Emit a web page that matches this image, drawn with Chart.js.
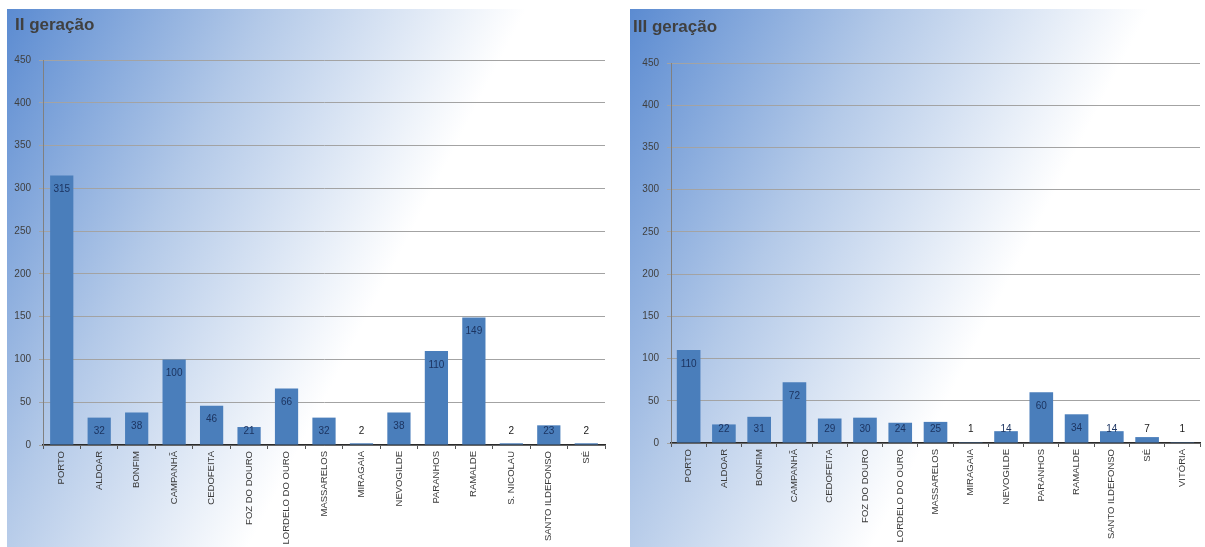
<!DOCTYPE html>
<html>
<head>
<meta charset="utf-8">
<script src="https://cdn.jsdelivr.net/npm/chart.js@4"></script>
<style>
  body { margin: 0; background: #fff; width: 1205px; height: 547px; overflow: hidden; position: relative; }
  .painel { position: absolute; top: 9px; height: 538px; }
  #p2 { left: 7px; width: 603px; }
  #p3 { left: 630px; width: 575px; }
</style>
</head>
<body>
<div class="painel" id="p2"><canvas id="g2"></canvas></div>
<div class="painel" id="p3"><canvas id="g3"></canvas></div>
<script>
// dados
const freguesias2 = ["PORTO", "ALDOAR", "BONFIM", "CAMPANHÃ", "CEDOFEITA", "FOZ DO DOURO",
  "LORDELO DO OURO", "MASSARELOS", "MIRAGAIA", "NEVOGILDE", "PARANHOS", "RAMALDE",
  "S. NICOLAU", "SANTO ILDEFONSO", "SÉ"];
const valores2 = [315, 32, 38, 100, 46, 21, 66, 32, 2, 38, 110, 149, 2, 23, 2];

const freguesias3 = ["PORTO", "ALDOAR", "BONFIM", "CAMPANHÃ", "CEDOFEITA", "FOZ DO DOURO",
  "LORDELO DO OURO", "MASSARELOS", "MIRAGAIA", "NEVOGILDE", "PARANHOS", "RAMALDE",
  "SANTO ILDEFONSO", "SÉ", "VITÓRIA"];
const valores3 = [110, 22, 31, 72, 29, 30, 24, 25, 1, 14, 60, 34, 14, 7, 1];

const ticksY = [0, 50, 100, 150, 200, 250, 300, 350, 400, 450];

const FONTE = '"Liberation Sans", Arial, sans-serif';

// fundo em degradê + título
const fundo = {
  id: "fundo",
  beforeDraw(chart, args, opts) {
    const ctx = chart.ctx;
    const w = chart.width, h = chart.height;
    const g = ctx.createLinearGradient(0, 0, 410, 212);
    g.addColorStop(0, "#5b8bd1");
    g.addColorStop(0.5, "#b3c9e8");
    g.addColorStop(1, "#ffffff");
    ctx.save();
    ctx.fillStyle = g;
    ctx.fillRect(0, 0, w, h);
    ctx.font = "bold 17px " + FONTE;
    ctx.fillStyle = "#404040";
    ctx.textBaseline = "alphabetic";
    ctx.fillText(opts.texto, opts.x, opts.y);
    ctx.restore();
  }
};

// rótulos de valor das barras
const rotulos = {
  id: "rotulos",
  afterDatasetsDraw(chart) {
    const ctx = chart.ctx;
    const meta = chart.getDatasetMeta(0);
    const dados = chart.data.datasets[0].data;
    ctx.save();
    ctx.font = "10px " + FONTE;
    ctx.textAlign = "center";
    ctx.textBaseline = "middle";
    meta.data.forEach(function (barra, i) {
      const y = Math.min(barra.y + 14, barra.base - 13);
      ctx.fillStyle = (barra.base - barra.y) > 10 ? "#1c3461" : "#1a1a1a";
      ctx.fillText(dados[i], barra.x, y);
    });
    ctx.restore();
  }
};

function criarGrafico(id, titulo, tx, ty, labels, valores, geo) {
  return new Chart(document.getElementById(id), {
    type: "bar",
    data: {
      labels: labels,
      datasets: [{
        data: valores,
        backgroundColor: "#4a7ebb",
        borderWidth: 0,
        categoryPercentage: 1,
        barPercentage: geo.barra
      }]
    },
    options: {
      responsive: true,
      maintainAspectRatio: false,
      animation: false,
      layout: { padding: { top: geo.topo, right: geo.direita, left: 0, bottom: 0 } },
      plugins: {
        legend: { display: false },
        tooltip: { enabled: false },
        fundo: { texto: titulo, x: tx, y: ty }
      },
      scales: {
        x: {
          offset: true,
          grid: { display: true, drawOnChartArea: false, drawTicks: true, tickLength: 4, offset: true, color: "#555" },
          border: { color: "#2b2b2b", width: 1.5 },
          ticks: {
            autoSkip: false, minRotation: 90, maxRotation: 90, padding: 2,
            color: "#3a3a3a", font: { family: FONTE, size: 9.5 }
          },
          afterFit(scale) { scale.height = geo.eixoX; }
        },
        y: {
          min: ticksY[0],
          max: ticksY[ticksY.length - 1],
          ticks: { stepSize: ticksY[1] - ticksY[0], padding: 8, color: "#404040", font: { family: FONTE, size: 10 } },
          grid: { color: "#a3a3a3", lineWidth: 1, tickLength: 4 },
          border: { color: "#808080", width: 1 },
          afterFit(scale) { scale.width = geo.eixoY; }
        }
      }
    },
    plugins: [fundo, rotulos]
  });
}

criarGrafico("g2", "II geração", 8, 21, freguesias2, valores2,
  { topo: 51, direita: 5, eixoX: 102, eixoY: 36, barra: 0.62 });
criarGrafico("g3", "III geração", 3, 23, freguesias3, valores3,
  { topo: 54, direita: 5, eixoX: 104, eixoY: 41, barra: 0.67 });
</script>
</body>
</html>
